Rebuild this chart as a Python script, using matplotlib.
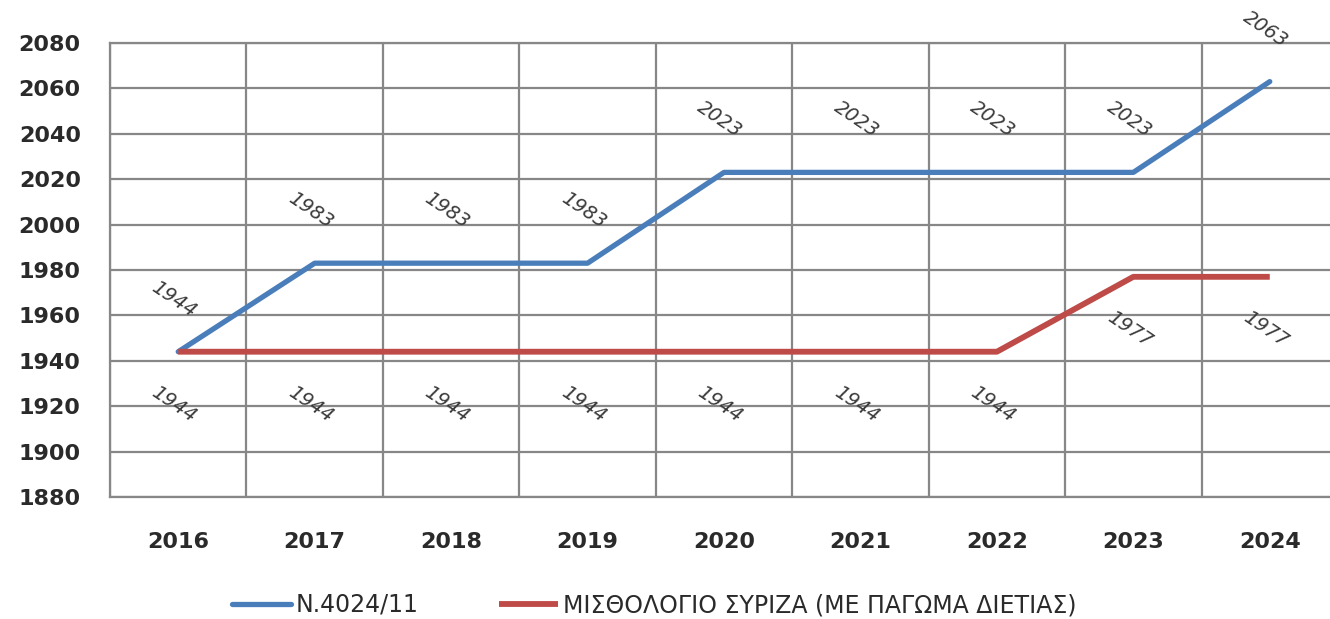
import matplotlib.pyplot as plt

years = ["2016", "2017", "2018", "2019", "2020", "2021", "2022", "2023", "2024"]
n4024 = [1944, 1983, 1983, 1983, 2023, 2023, 2023, 2023, 2063]
syriza = [1944, 1944, 1944, 1944, 1944, 1944, 1944, 1977, 1977]
labels = ["N.4024/11", "ΜΙΣΘΟΛΟΓΙΟ ΣΥΡΙΖΑ (ΜΕ ΠΑΓΩΜΑ ΔΙΕΤΙΑΣ)"]

blue = "#4A7EBB"
red = "#BE4B48"
grid_col = "#878787"

fig = plt.figure(figsize=(13.3, 6.19), dpi=100)
ax = fig.add_axes([110 / 1330, 1 - 497 / 619, 1228 / 1330, 454 / 619])

x = list(range(len(years)))
ax.plot(x, n4024, color=blue, lw=3.8, label=labels[0], solid_capstyle="round", zorder=3)
ax.plot(x, syriza, color=red, lw=4.2, label=labels[1], solid_capstyle="butt", zorder=3)

# data labels, tilted, above the blue line and below the red one
for i, v in enumerate(n4024):
    ax.annotate(str(v), (i, v), xytext=(-3, 38), textcoords="offset points",
                ha="center", va="center", rotation=-34, fontsize=14,
                color="#3a3a3a", fontstyle="italic", annotation_clip=False)
for i, v in enumerate(syriza):
    ax.annotate(str(v), (i, v), xytext=(-3, -38), textcoords="offset points",
                ha="center", va="center", rotation=-34, fontsize=14,
                color="#3a3a3a", fontstyle="italic", annotation_clip=False)

ax.set_xlim(-0.5, len(years) - 0.5)
ax.set_ylim(1880, 2080)
ax.set_yticks(range(1880, 2081, 20))
ax.set_xticks(x)
ax.set_xticklabels(years)
ax.set_xticks([i - 0.5 for i in range(len(years) + 1)], minor=True)
ax.tick_params(axis="x", which="both", length=0, pad=25, labelsize=16, labelcolor="#2a2a2a")
ax.tick_params(axis="y", length=0, pad=21, labelsize=16, labelcolor="#2a2a2a")
for lab in ax.get_xticklabels() + ax.get_yticklabels():
    lab.set_fontweight("bold")

ax.grid(True, axis="y", color=grid_col, lw=1.6)
ax.grid(True, axis="x", which="minor", color=grid_col, lw=1.6)
ax.grid(False, axis="x", which="major")
for s in ax.spines.values():
    s.set_color(grid_col)
    s.set_linewidth(1.6)

fig.legend(loc="center left", bbox_to_anchor=(232 / 1330, 1 - 605 / 619), ncol=2,
           frameon=False, borderpad=0, borderaxespad=0, handlelength=2.5,
           columnspacing=3.4, handletextpad=0.2, labelcolor="#2a2a2a",
           prop={"family": ["Liberation Sans Narrow", "DejaVu Sans"], "size": 17})

fig.savefig("out.png", dpi=100)
